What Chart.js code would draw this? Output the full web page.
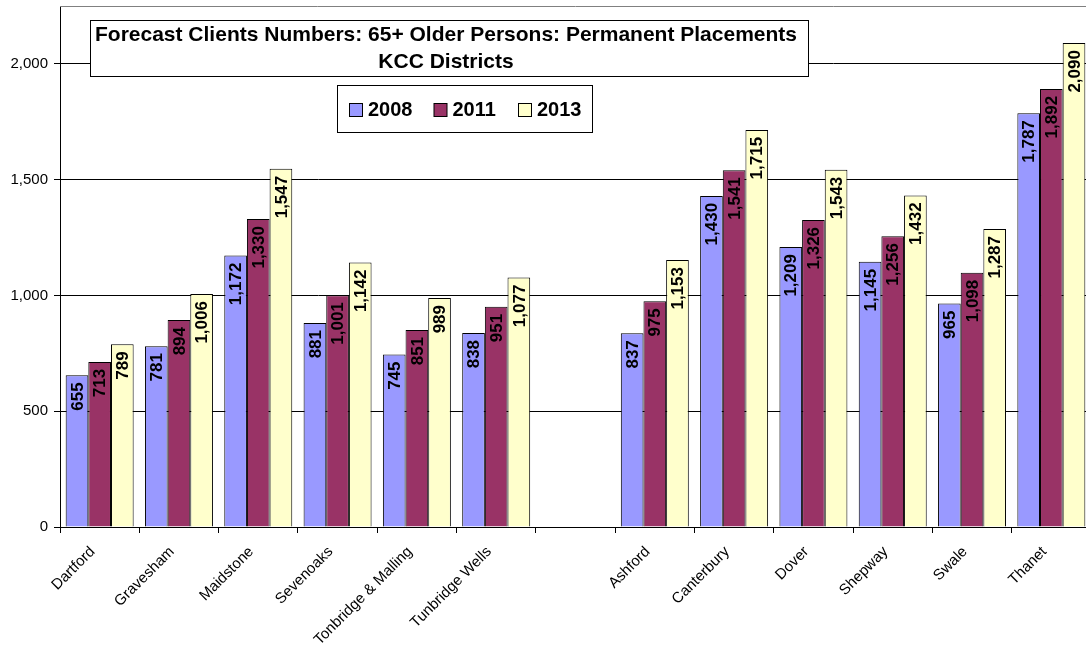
<!DOCTYPE html>
<html>
<head>
<meta charset="utf-8">
<script src="https://cdn.jsdelivr.net/npm/chart.js@4.4.1/dist/chart.umd.min.js"></script>
<style>
  html, body { margin: 0; padding: 0; background: #fff; overflow: hidden; }
  #wrap { width: 1091px; height: 649px; }
</style>
</head>
<body>
<div id="wrap"><canvas id="placementsChart"></canvas></div>
<script>
var districts = ['Dartford', 'Gravesham', 'Maidstone', 'Sevenoaks', 'Tonbridge & Malling', 'Tunbridge Wells', '',
                 'Ashford', 'Canterbury', 'Dover', 'Shepway', 'Swale', 'Thanet'];
var years = ['2008', '2011', '2013'];
var clients2008 = [655, 781, 1172, 881, 745, 838, null, 837, 1430, 1209, 1145, 965, 1787];
var clients2011 = [713, 894, 1330, 1001, 851, 951, null, 975, 1541, 1326, 1256, 1098, 1892];
var clients2013 = [789, 1006, 1547, 1142, 989, 1077, null, 1153, 1715, 1543, 1432, 1287, 2090];
var yTicks = [0, 500, 1000, 1500, 2000];
var titleLines = ['Forecast Clients Numbers: 65+ Older Persons: Permanent Placements', 'KCC Districts'];

var colours = ['#9999FF', '#993366', '#FFFFCC'];
var FONT = 'Arial, "Liberation Sans", sans-serif';

function fmt(v) {
    return v.toLocaleString('en-US');
}

// value labels written up the inside of each bar
var barLabels = {
    id: 'barLabels',
    afterDatasetsDraw: function(chart) {
        var ctx = chart.ctx;
        ctx.save();
        ctx.font = 'bold 17px ' + FONT;
        ctx.fillStyle = '#000';
        ctx.textAlign = 'right';
        ctx.textBaseline = 'middle';
        chart.data.datasets.forEach(function(ds, i) {
            chart.getDatasetMeta(i).data.forEach(function(bar, j) {
                var v = ds.data[j];
                if (v == null) return;
                ctx.save();
                ctx.translate(bar.x + 1, bar.y + 7);
                ctx.rotate(-Math.PI / 2);
                ctx.fillText(fmt(v), 0, 0);
                ctx.restore();
            });
        });
        ctx.restore();
    }
};

// plot frame top, title box and legend box
var overlay = {
    id: 'overlay',
    afterDraw: function(chart) {
        var ctx = chart.ctx;
        var area = chart.chartArea;
        ctx.save();
        ctx.strokeStyle = '#808080';
        ctx.lineWidth = 1;
        ctx.beginPath();
        ctx.moveTo(area.left, area.top + 0.5);
        ctx.lineTo(area.right, area.top + 0.5);
        ctx.stroke();

        // title box
        ctx.fillStyle = '#fff';
        ctx.fillRect(90.5, 20.5, 718, 56);
        ctx.strokeStyle = '#000';
        ctx.strokeRect(90.5, 20.5, 718, 56);
        ctx.fillStyle = '#000';
        ctx.font = 'bold 21px ' + FONT;
        ctx.textAlign = 'center';
        ctx.textBaseline = 'middle';
        ctx.fillText(titleLines[0], 446, 35);
        ctx.fillText(titleLines[1], 446, 62);

        // legend box
        ctx.fillStyle = '#fff';
        ctx.fillRect(337.5, 85.5, 255, 47);
        ctx.strokeRect(337.5, 85.5, 255, 47);
        ctx.font = 'bold 20px ' + FONT;
        ctx.textAlign = 'left';
        var x = 349;
        chart.data.datasets.forEach(function(ds) {
            ctx.fillStyle = ds.backgroundColor;
            ctx.fillRect(x + 0.5, 103.5, 13, 13);
            ctx.strokeStyle = '#000';
            ctx.strokeRect(x + 0.5, 103.5, 13, 13);
            ctx.fillStyle = '#000';
            ctx.fillText(ds.label, x + 19, 110);
            x += 84.5;
        });
        ctx.restore();
    }
};

new Chart(document.getElementById('placementsChart').getContext('2d'), {
    type: 'bar',
    data: {
        labels: districts,
        datasets: [
            { label: years[0], data: clients2008, backgroundColor: colours[0] },
            { label: years[1], data: clients2011, backgroundColor: colours[1] },
            { label: years[2], data: clients2013, backgroundColor: colours[2] }
        ]
    },
    options: {
        responsive: true,
        maintainAspectRatio: false,
        animation: false,
        layout: { padding: { top: 6, left: 0, right: 0, bottom: 0 } },
        datasets: {
            bar: {
                borderColor: '#000',
                borderWidth: 1,
                borderSkipped: 'bottom',
                categoryPercentage: 3 / 3.5,
                barPercentage: 1
            }
        },
        plugins: {
            legend: { display: false },
            title: { display: false },
            tooltip: { enabled: false }
        },
        scales: {
            x: {
                grid: {
                    offset: true,
                    drawOnChartArea: false,
                    drawTicks: true,
                    tickLength: 6,
                    color: '#000'
                },
                border: { color: '#000', width: 1 },
                ticks: {
                    color: '#000',
                    font: { family: FONT, size: 15 },
                    minRotation: 45,
                    maxRotation: 45,
                    padding: 10,
                    labelOffset: -7,
                    autoSkip: false
                },
                afterFit: function(scale) {
                    scale.height = 122;
                    scale.paddingLeft = 0;
                    scale.paddingRight = 0;
                }
            },
            y: {
                min: 0,
                max: 2250,
                afterBuildTicks: function(scale) {
                    scale.ticks = yTicks.map(function(v) { return { value: v }; });
                },
                grid: {
                    color: '#000',
                    tickLength: 6
                },
                border: { color: '#000', width: 1 },
                ticks: {
                    color: '#000',
                    padding: 6,
                    font: { family: FONT, size: 15 },
                    callback: function(v) { return fmt(v); }
                },
                afterFit: function(scale) {
                    scale.width = 60;
                    scale.paddingTop = 0;
                    scale.paddingBottom = 0;
                }
            }
        }
    },
    plugins: [barLabels, overlay]
});
</script>
</body>
</html>
